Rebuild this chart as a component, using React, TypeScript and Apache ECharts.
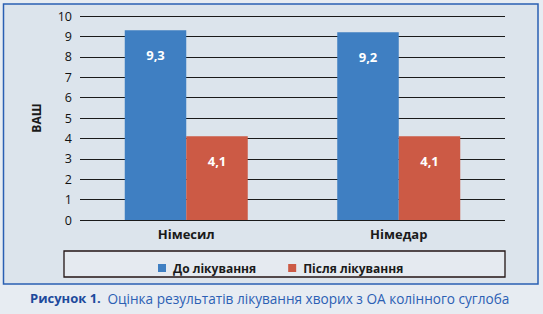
import React, { useEffect, useRef } from "react";
import * as echarts from "echarts";

const categories = ["Німесил", "Німедар"];
const beforeValues = [9.3, 9.2];
const afterValues = [4.1, 4.1];
const seriesNames = ["До лікування", "Після лікування"];
const yAxisName = "ВАШ";
const captionBold = "Рисунок 1.";
const captionText = "Оцінка результатів лікування хворих з ОА колінного суглоба";

const fmt = (v: number) => v.toFixed(1).replace(".", ",");

export default function App() {
  const ref = useRef<HTMLDivElement>(null);
  useEffect(() => {
    document.body.style.margin = "0";
    const chart = echarts.init(ref.current!, null, { renderer: "svg" });
    const font = "'Open Sans', 'DejaVu Sans', sans-serif";
    const labelCfg = {
      show: true,
      position: "insideTop" as const,
      distance: 18,
      color: "#ffffff",
      fontWeight: "bold" as const,
      fontSize: 13,
      fontFamily: font,
      formatter: (p: any) => fmt(p.value),
    };
    chart.setOption({
      animation: false,
      backgroundColor: "#e7ecf2",
      graphic: [
        {
          type: "rect",
          z: -10,
          shape: { x: 3.5, y: 4, width: 534.5, height: 280 },
          style: { fill: "#dce4ec", stroke: "#2a5fb3", lineWidth: 1.5 },
        },
        {
          type: "rect",
          z: -5,
          shape: { x: 64, y: 251, width: 441, height: 26 },
          style: { fill: "#e5eaf0", stroke: "#231515", lineWidth: 1.3 },
        },
        {
          type: "text",
          x: 30,
          y: 298,
          style: {
            text: "{b|" + captionBold + "}  {r|" + captionText + "}",
            verticalAlign: "middle",
            rich: {
              b: { fontFamily: font, fontWeight: "bold", fontSize: 13, fill: "#1d4a9c" },
              r: { fontFamily: font, fontSize: 13.6, fill: "#2c60b4" },
            },
          },
        },
      ],
      grid: { left: 80, right: 38, top: 16, bottom: 94 },
      legend: {
        left: 153,
        top: 257,
        itemWidth: 8,
        itemHeight: 8,
        itemGap: 32,
        icon: "rect",
        textStyle: {
          fontFamily: font,
          fontWeight: "bold",
          fontSize: 12,
          color: "#1a1a1a",
          padding: [0, 0, 0, 2],
        },
        data: seriesNames,
      },
      xAxis: {
        type: "category",
        data: categories,
        axisLine: { show: false },
        axisTick: { show: false },
        axisLabel: {
          fontFamily: font,
          fontWeight: "bold",
          fontSize: 13,
          color: "#1a1a1a",
          margin: 7,
        },
      },
      yAxis: {
        type: "value",
        min: 0,
        max: 10,
        interval: 1,
        name: yAxisName,
        nameLocation: "middle",
        nameGap: 38,
        nameTextStyle: { fontFamily: font, fontWeight: "bold", fontSize: 12, color: "#1a1a1a" },
        axisLine: { show: false },
        axisTick: { show: false },
        axisLabel: { fontFamily: font, fontSize: 12.5, fontWeight: 500, color: "#111111", margin: 8 },
        splitLine: { lineStyle: { color: "#1a1a1a", width: 1.2 } },
      },
      series: [
        {
          name: seriesNames[0],
          type: "bar",
          data: beforeValues,
          barWidth: 61.5,
          barGap: "0%",
          itemStyle: { color: "#3f7fc2" },
          label: labelCfg,
        },
        {
          name: seriesNames[1],
          type: "bar",
          data: afterValues,
          barWidth: 61.5,
          barGap: "0%",
          itemStyle: { color: "#cc5a45" },
          label: labelCfg,
        },
      ],
    });
    return () => chart.dispose();
  }, []);
  return <div ref={ref} style={{ width: 543, height: 314 }} />;
}
